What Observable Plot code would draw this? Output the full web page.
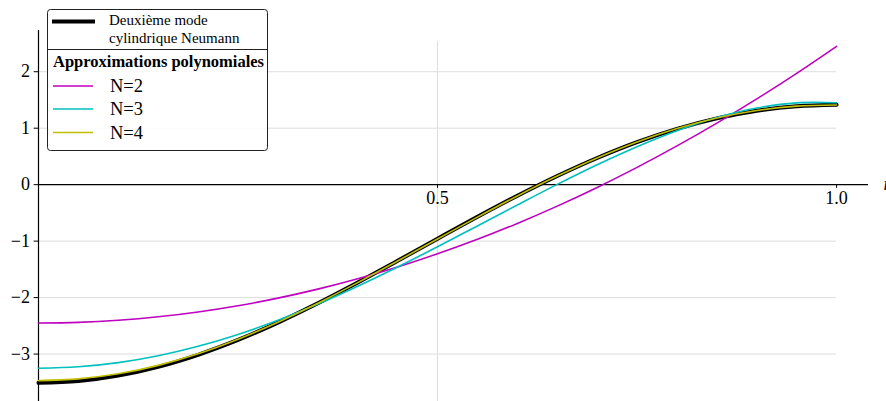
<!DOCTYPE html>
<html>
<head>
<meta charset="utf-8">
<script src="https://cdn.jsdelivr.net/npm/d3@7"></script>
<script src="https://cdn.jsdelivr.net/npm/@observablehq/plot@0.6"></script>
<style>
  html, body { margin: 0; padding: 0; background: #fff; }
  #wrap { position: relative; width: 886px; height: 401px; overflow: hidden; }
  #wrap svg { position: absolute; left: 0; top: 0; }
  #wrap svg text { font-family: 'Liberation Serif', 'Times New Roman', serif; }
</style>
</head>
<body>
<div id="wrap"></div>
<script>
// ---- data ----
const rValues = [0.00, 0.05, 0.10, 0.15, 0.20, 0.25, 0.30, 0.35, 0.40, 0.45, 0.50,
                 0.55, 0.60, 0.65, 0.70, 0.75, 0.80, 0.85, 0.90, 0.95, 1.00];
const modeNeumann = [-3.510, -3.478, -3.382, -3.226, -3.013, -2.750, -2.443, -2.101, -1.732, -1.348, -0.957,
                     -0.570, -0.197, 0.153, 0.472, 0.753, 0.988, 1.174, 1.308, 1.387, 1.414];
const approxN2 = [-2.450, -2.438, -2.401, -2.340, -2.254, -2.144, -2.009, -1.850, -1.666, -1.458, -1.225,
                  -0.968, -0.686, -0.380, -0.049, 0.306, 0.686, 1.090, 1.519, 1.972, 2.450];
const approxN3 = [-3.250, -3.225, -3.152, -3.030, -2.862, -2.652, -2.401, -2.115, -1.799, -1.458, -1.100,
                  -0.731, -0.360, 0.005, 0.353, 0.673, 0.956, 1.188, 1.357, 1.449, 1.450];
const approxN4 = [-3.470, -3.440, -3.350, -3.200, -2.995, -2.738, -2.437, -2.100, -1.735, -1.352, -0.962,
                  -0.575, -0.200, 0.152, 0.473, 0.756, 0.993, 1.180, 1.313, 1.390, 1.412];

const seriesNames = ["mode", "N=2", "N=3", "N=4"];
const seriesLabels = ["Deuxième mode", "N=2", "N=3", "N=4"];
const legendTitle = "Approximations polynomiales";
const modeLabelLines = ["Deuxième mode", "cylindrique Neumann"];

const xTicks = [0.5, 1.0];
const xTickLabels = ["0.5", "1.0"];
const yTicks = [-3, -2, -1, 0, 1, 2];
const yTickLabels = ["−3", "−2", "−1", "0", "1", "2"];
const yGrid = [-3, -2, -1, 1, 2];
const xGrid = [0.5];
const axisLabelX = "r";

// ---- build table ----
const seriesValues = [modeNeumann, approxN2, approxN3, approxN4];
const rows = [];
seriesNames.forEach((s, i) => {
  rValues.forEach((r, j) => rows.push({ series: s, r, v: seriesValues[i][j] }));
});
const colors = { "mode": "#000000", "N=2": "#bf00bf", "N=3": "#00bfbf", "N=4": "#bfbf00" };

const X0 = 0, X1 = 1.04, Y0 = -3.84, Y1 = 2.73;
const FONT = "'Liberation Serif', 'Times New Roman', serif";

const chart = Plot.plot({
  width: 886,
  height: 401,
  marginLeft: 38,
  marginRight: 18,
  marginTop: 30,
  marginBottom: 0,
  x: { domain: [X0, X1], axis: null },
  y: { domain: [Y0, Y1], axis: null },
  style: { fontFamily: FONT, background: "transparent", overflow: "visible" },
  marks: [
    Plot.ruleY(yGrid, { x1: 0, x2: 1, stroke: "#dddddd", strokeWidth: 1 }),
    Plot.ruleX(xGrid, { y1: Y0, y2: 2.53, stroke: "#dddddd", strokeWidth: 1 }),
    // spines
    Plot.ruleX([0], { y1: Y0, y2: Y1, stroke: "#000", strokeWidth: 1.2 }),
    Plot.ruleY([0], { x1: X0, x2: X1, stroke: "#000", strokeWidth: 1.2 }),
    // tick marks
    Plot.ruleY(yTicks, { x1: -0.0055, x2: 0, stroke: "#000", strokeWidth: 1 }),
    Plot.ruleX(xTicks, { y1: 0, y2: -0.065, stroke: "#000", strokeWidth: 1 }),
    // tick labels
    Plot.text(xTicks, { x: d => d, y: 0, text: (d, i) => xTickLabels[i], dy: 13.5, fontSize: 18, fontFamily: FONT, fill: "#000" }),
    Plot.text(yTicks, { x: 0, y: d => d, text: (d, i) => yTickLabels[i], dx: -8.5, textAnchor: "end", fontSize: 18, fontFamily: FONT, fill: "#000" }),
    Plot.text([axisLabelX], { x: X1, y: 0, text: d => d, dx: 15, dy: 0, textAnchor: "start", fontSize: 18, fontFamily: FONT, fontStyle: "italic", fill: "#000" }),
    // curves
    Plot.line(rows.filter(d => d.series === "mode"), { x: "r", y: "v", stroke: colors["mode"], strokeWidth: 4, curve: "catmull-rom" }),
    Plot.line(rows.filter(d => d.series === "N=2"), { x: "r", y: "v", stroke: colors["N=2"], strokeWidth: 1.6, curve: "catmull-rom" }),
    Plot.line(rows.filter(d => d.series === "N=3"), { x: "r", y: "v", stroke: colors["N=3"], strokeWidth: 1.6, curve: "catmull-rom" }),
    Plot.line(rows.filter(d => d.series === "N=4"), { x: "r", y: "v", stroke: colors["N=4"], strokeWidth: 1.6, curve: "catmull-rom" })
  ]
});
document.getElementById("wrap").appendChild(chart);

// ---- legend (overlay) ----
const lg = d3.select("#wrap").append("svg")
  .attr("width", 886).attr("height", 401)
  .style("pointer-events", "none")
  .style("font-family", FONT);
lg.append("rect").attr("x", 47.5).attr("y", 9.5).attr("width", 220).attr("height", 141)
  .attr("rx", 3).attr("fill", "rgba(255,255,255,0.85)").attr("stroke", "#222").attr("stroke-width", 1);
lg.append("line").attr("x1", 52).attr("x2", 95).attr("y1", 21.5).attr("y2", 21.5)
  .attr("stroke", colors["mode"]).attr("stroke-width", 4);
lg.append("text").attr("x", 109).attr("y", 25).attr("font-size", 15).text(modeLabelLines[0]);
lg.append("text").attr("x", 109).attr("y", 42.5).attr("font-size", 15).text(modeLabelLines[1]);
lg.append("line").attr("x1", 47.5).attr("x2", 267.5).attr("y1", 49.5).attr("y2", 49.5)
  .attr("stroke", "#222").attr("stroke-width", 1);
lg.append("text").attr("x", 53).attr("y", 67).attr("font-size", 16.5).attr("font-weight", "bold").text(legendTitle);
const entryY = [86, 109, 132.5];
["N=2", "N=3", "N=4"].forEach((s, i) => {
  lg.append("line").attr("x1", 53).attr("x2", 93).attr("y1", entryY[i]).attr("y2", entryY[i])
    .attr("stroke", colors[s]).attr("stroke-width", 1.6);
  lg.append("text").attr("x", 110).attr("y", entryY[i] + 6.3).attr("font-size", 18.5)
    .text(seriesLabels[seriesNames.indexOf(s)]);
});
</script>
</body>
</html>
